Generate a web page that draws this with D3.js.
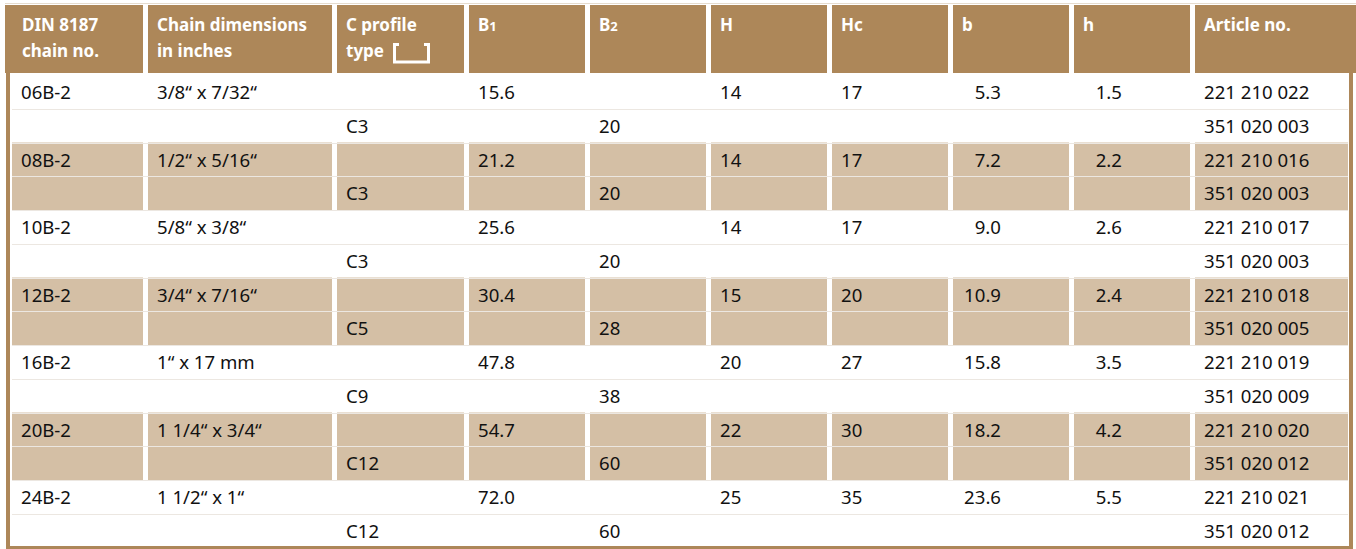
<!DOCTYPE html>
<html>
<head>
<meta charset="utf-8">
<script src="https://cdn.jsdelivr.net/npm/d3@7"></script>
<style>
  body { margin: 0; background: #fff; }
  svg { display: block; }
  text { font-family: "Noto Sans", "Open Sans", sans-serif; }
</style>
</head>
<body>
<div id="chart"></div>
<script>
// table data, one entry per chain
const chainNo = ["06B-2", "08B-2", "10B-2", "12B-2", "16B-2", "20B-2", "24B-2"];
const chainDims = ["3/8\u201C x 7/32\u201C", "1/2\u201C x 5/16\u201C", "5/8\u201C x 3/8\u201C", "3/4\u201C x 7/16\u201C",
  "1\u201C x 17 mm", "1 1/4\u201C x 3/4\u201C", "1 1/2\u201C x 1\u201C"];
const profileType = ["C3", "C3", "C3", "C5", "C9", "C12", "C12"];
const B1 = ["15.6", "21.2", "25.6", "30.4", "47.8", "54.7", "72.0"];
const B2 = ["20", "20", "20", "28", "38", "60", "60"];
const H = ["14", "14", "14", "15", "20", "22", "25"];
const Hc = ["17", "17", "17", "20", "27", "30", "35"];
const bVals = ["5.3", "7.2", "9.0", "10.9", "15.8", "18.2", "23.6"];
const hVals = ["1.5", "2.2", "2.6", "2.4", "3.5", "4.2", "5.5"];
const articleChain = ["221 210 022", "221 210 016", "221 210 017", "221 210 018", "221 210 019", "221 210 020", "221 210 021"];
const articleProfile = ["351 020 003", "351 020 003", "351 020 003", "351 020 005", "351 020 009", "351 020 012", "351 020 012"];

const width = 1356, height = 549;
const brown = "#ad8759", shade = "#d4bfa5";

// column edges (left/right of each cell, white gaps between)
const colLeft = [12, 148, 337, 469, 590, 711, 832, 953, 1074, 1195];
const colRight = [143, 332, 464, 585, 706, 827, 948, 1069, 1190, 1348];

// each column: values, which sub-row, alignment
const columns = [
  {vals: chainNo, line: 0},
  {vals: chainDims, line: 0},
  {vals: profileType, line: 1},
  {vals: B1, line: 0},
  {vals: B2, line: 1},
  {vals: H, line: 0},
  {vals: Hc, line: 0},
  {vals: bVals, line: 0, right: 48},
  {vals: hVals, line: 0, right: 48},
  {vals: articleChain, line: 0},
  {vals: articleProfile, line: 1, col: 9}
];

const svg = d3.select("#chart").append("svg")
  .attr("width", width)
  .attr("height", height);

// sub-row scale: 2 lines per chain
let y = d3.scaleLinear().domain([0, chainNo.length * 2]).range([75, 547.5]);

// header
svg.append("line")
  .attr("x1", 5).attr("x2", width).attr("y1", 3.5).attr("y2", 3.5)
  .attr("stroke", "#e6dccf").attr("stroke-width", 1);

svg.selectAll("rect.head")
  .data(colLeft).enter()
  .append("rect").attr("class", "head")
  .attr("x", (d, i) => i == 0 ? 5 : d)
  .attr("y", 5)
  .attr("width", (d, i) => (i == 9 ? width : colRight[i]) - (i == 0 ? 5 : d))
  .attr("height", 68)
  .attr("fill", brown);

const headers = [
  ["DIN 8187", "chain no."],
  ["Chain dimensions", "in inches"],
  ["C profile", "type"],
  ["B", null, "1"],
  ["B", null, "2"],
  ["H"],
  ["Hc"],
  ["b"],
  ["h"],
  ["Article no."]
];

headers.forEach((hd, i) => {
  let x0 = colLeft[i] + (i == 0 ? 10 : 9);
  let t = svg.append("text")
    .attr("x", x0).attr("y", 31)
    .attr("fill", "#fff")
    .attr("font-weight", "bold")
    .attr("font-size", "17px")
    .text(hd[0]);
  if (hd[2]) {
    t.append("tspan").attr("font-size", "13px").text(hd[2]);
  }
  if (hd[1]) {
    svg.append("text")
      .attr("x", x0).attr("y", 57)
      .attr("fill", "#fff")
      .attr("font-weight", "bold")
      .attr("font-size", "17px")
      .text(hd[1]);
  }
});

// C profile glyph next to "type"
svg.append("path")
  .attr("d", "M399,44.5 L394.5,44.5 L394.5,62 L428.5,62 L428.5,44.5 L424,44.5")
  .attr("fill", "none")
  .attr("stroke", "#fff")
  .attr("stroke-width", 3);

// shaded chains (every second one)
let shaded = chainNo.map((d, i) => i).filter(i => i % 2 == 1);
shaded.forEach(r => {
  svg.selectAll(null)
    .data(colLeft).enter()
    .append("rect")
    .attr("x", d => d)
    .attr("y", y(r * 2))
    .attr("width", (d, i) => colRight[i] - d)
    .attr("height", y(r * 2 + 2) - y(r * 2))
    .attr("fill", shade);
});

// faint sub-row separators
svg.selectAll("line.sep")
  .data(d3.range(1, chainNo.length * 2)).enter()
  .append("line").attr("class", "sep")
  .attr("x1", 12).attr("x2", 1348)
  .attr("y1", d => Math.round(y(d)) + 0.5)
  .attr("y2", d => Math.round(y(d)) + 0.5)
  .attr("stroke", "#ece7e1")
  .attr("stroke-width", 1);

// frame
svg.append("rect").attr("x", 6).attr("y", 73).attr("width", 4).attr("height", 476).attr("fill", brown);
svg.append("rect").attr("x", 1349).attr("y", 73).attr("width", 4).attr("height", 476).attr("fill", brown);
svg.append("rect").attr("x", 6).attr("y", 546).attr("width", 1347).attr("height", 3).attr("fill", brown);

// cell texts
columns.forEach((c, k) => {
  let ci = c.col != null ? c.col : (k > 9 ? 9 : k);
  svg.selectAll(null)
    .data(c.vals).enter()
    .append("text")
    .attr("x", c.right ? colLeft[ci] + c.right : colLeft[ci] + 9)
    .attr("y", (d, i) => y(i * 2 + c.line) + 24)
    .attr("text-anchor", c.right ? "end" : "start")
    .attr("font-size", "18.6px")
    .attr("fill", "#111")
    .text(d => d);
});
</script>
</body>
</html>
